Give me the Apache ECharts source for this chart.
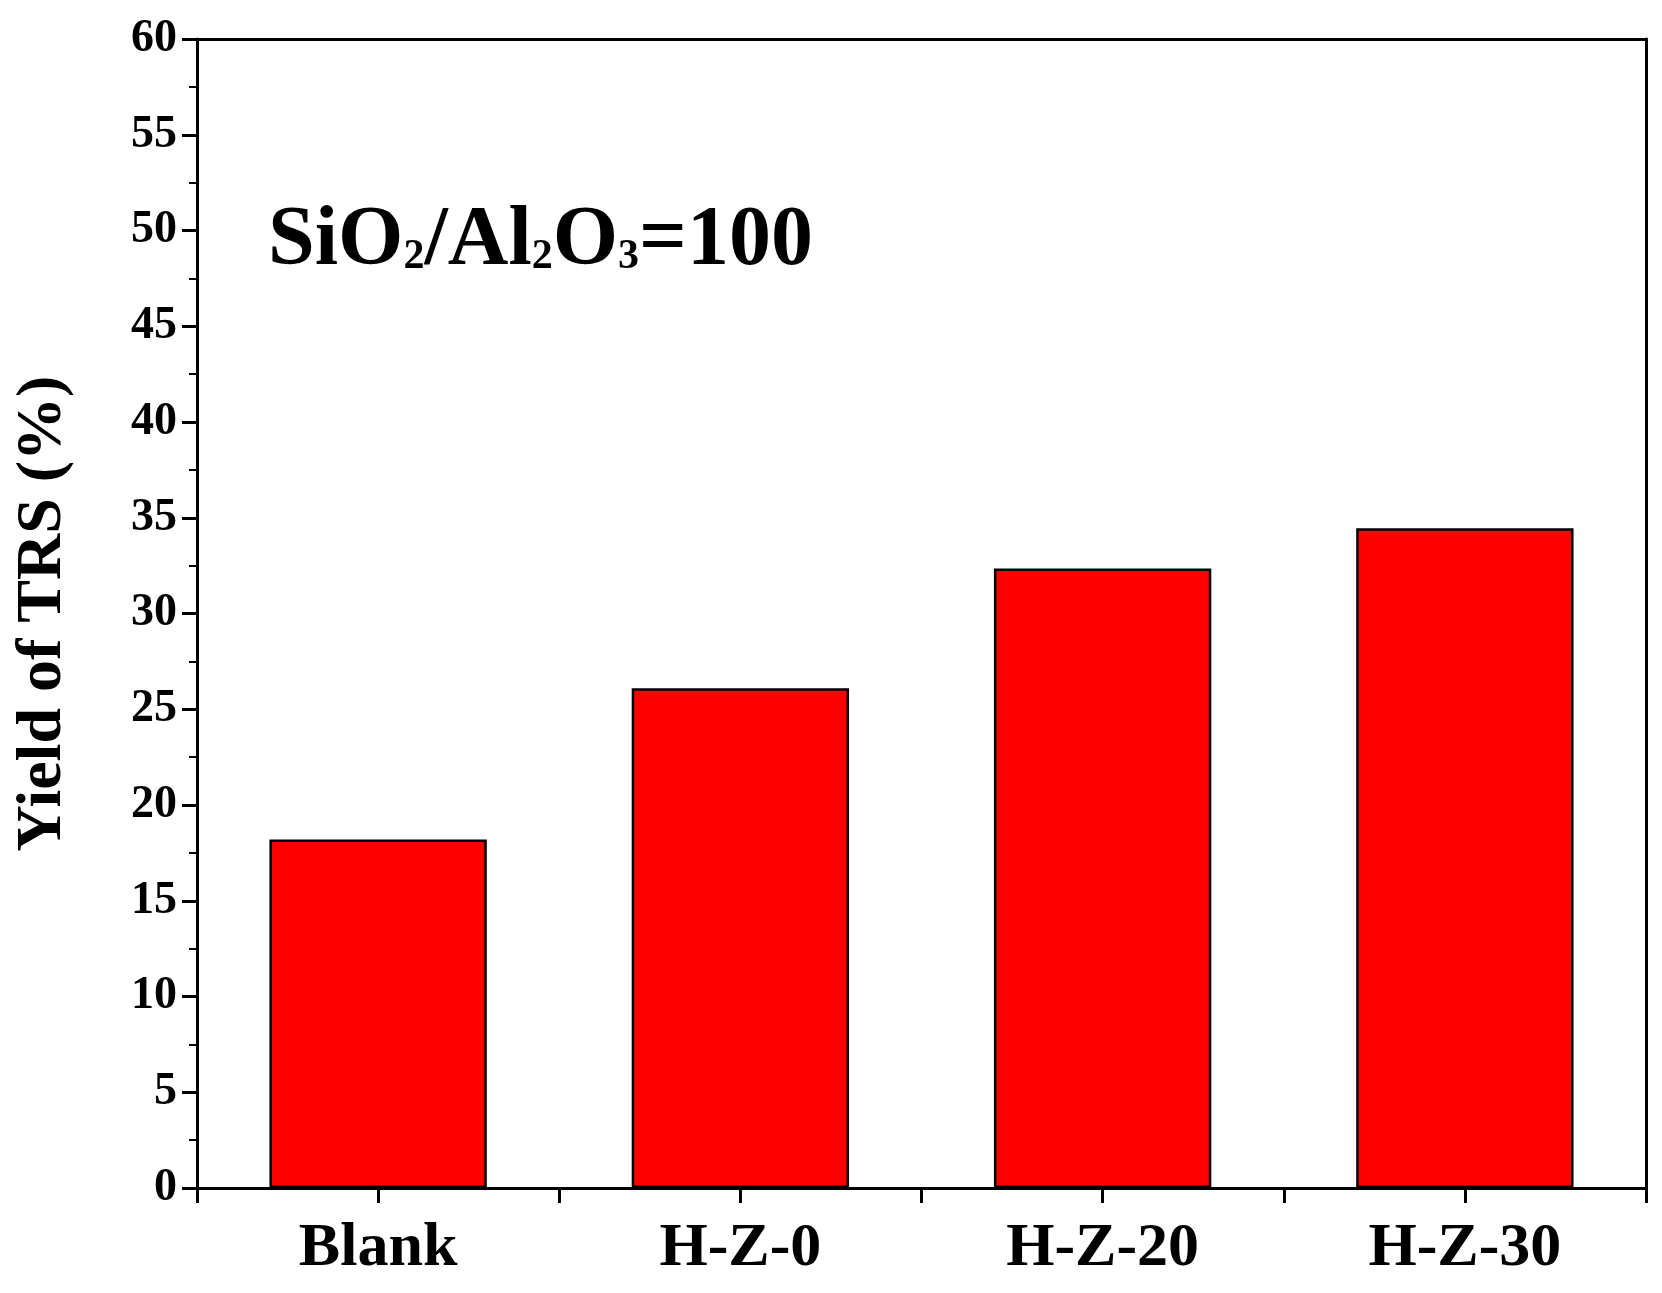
<!DOCTYPE html><html><head><meta charset="utf-8">
<script src="https://cdn.jsdelivr.net/npm/echarts@6/dist/echarts.min.js"></script>
<style>html,body{margin:0;padding:0;background:#fff}#c{width:1662px;height:1293px}</style></head><body>
<div id="c"></div>
<script>
const categories=['Blank','H-Z-0','H-Z-20','H-Z-30'];
const values=[18.2,26.1,32.35,34.45];
const yTicks={min:0,max:60,interval:5};
const F='"Liberation Serif","Times New Roman",serif';
const chart=echarts.init(document.getElementById('c'));
const ax={lineStyle:{color:'#000',width:3}};
chart.setOption({
  animation:false,
  grid:{left:197,right:16,top:39,bottom:105},
  graphic:[{type:'text',left:268,top:200,style:{
    rich:{a:{fontFamily:F,fontWeight:'bold',fontSize:84,fill:'#000'},s:{fontFamily:F,fontWeight:'bold',fontSize:42,fill:'#000',padding:[30,0,0,0]}},
    text:'{a|SiO}{s|2}{a|/Al}{s|2}{a|O}{s|3}{a|=100}'}}],
  xAxis:[
    {type:'category',data:categories,axisLine:ax,axisTick:{show:true,length:15,lineStyle:{color:'#000',width:3}},
     axisLabel:{fontFamily:F,fontWeight:'bold',fontSize:62,color:'#000',margin:30}},
    {type:'category',data:categories,position:'bottom',axisLine:{show:false},axisTick:{show:true,alignWithLabel:true,length:15,lineStyle:{color:'#000',width:3}},axisLabel:{show:false}},
    {type:'category',data:categories,position:'top',axisLine:ax,axisTick:{show:false},axisLabel:{show:false}}
  ],
  yAxis:[
    {type:'value',min:yTicks.min,max:yTicks.max,interval:yTicks.interval,axisLine:{show:true,lineStyle:{color:'#000',width:3}},
     axisTick:{show:true,length:15,lineStyle:{color:'#000',width:3}},
     minorTick:{show:true,splitNumber:2,length:8,lineStyle:{color:'#000',width:2}},
     splitLine:{show:false},
     axisLabel:{fontFamily:F,fontWeight:'bold',fontSize:46,color:'#000',margin:20},
     name:'Yield of TRS (%)',nameLocation:'middle',nameGap:122,
     nameTextStyle:{fontFamily:F,fontWeight:'bold',fontSize:64,color:'#000'}},
    {type:'value',min:0,max:60,position:'right',axisLine:{show:true,lineStyle:{color:'#000',width:3}},axisTick:{show:false},axisLabel:{show:false},splitLine:{show:false}}
  ],
  series:[{type:'bar',data:values,barWidth:'60%',itemStyle:{color:'#ff0000',borderColor:'#000',borderWidth:2.5}}]
});
</script></body></html>
